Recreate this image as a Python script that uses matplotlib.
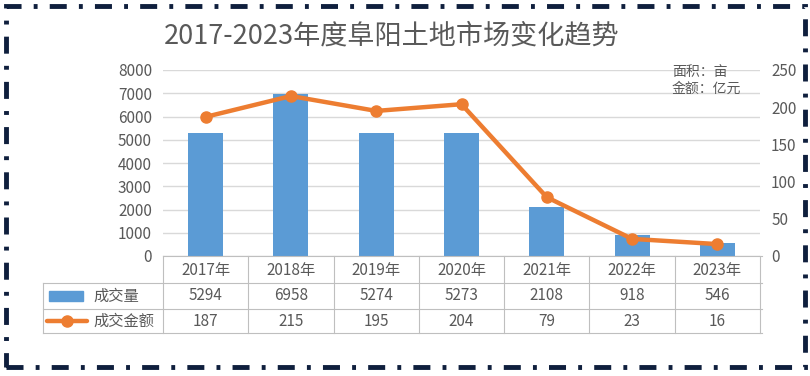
import numpy as np
import matplotlib.pyplot as plt
from matplotlib.lines import Line2D
from matplotlib.patches import Rectangle
from matplotlib.transforms import blended_transform_factory

plt.rcParams['font.family'] = ['Noto Sans CJK SC', 'DejaVu Sans']

''' --------- Data --------- '''
years = ['2017年', '2018年', '2019年', '2020年', '2021年', '2022年', '2023年']
volume = [5294, 6958, 5274, 5273, 2108, 918, 546]      # 成交量 [亩]
amount = [187, 215, 195, 204, 79, 23, 16]              # 成交金额 [亿元]
left_ticks = [0, 1000, 2000, 3000, 4000, 5000, 6000, 7000, 8000]
right_ticks = [0, 50, 100, 150, 200, 250]

W, H = 810, 376
blue = '#5b9bd5'
orange = '#ed7d31'
gray = '#595959'
grid = '#d9d9d9'


def fx(px):
    return px / W


def fy(py):
    return 1 - py / H


fig = plt.figure(figsize=(W / 100, H / 100), dpi=100)
fig.patch.set_facecolor('white')

ax = fig.add_axes([fx(163), fy(256), fx(760) - fx(163), fy(70) - fy(256)])
x = np.arange(len(years))
ax.bar(x, volume, width=0.41, color=blue, zorder=2)
ax.set_xlim(-0.5, len(years) - 0.5)
ax.set_ylim(0, 8000)
ax.set_yticks(left_ticks)
ax.set_xticks([])
ax.grid(axis='y', color=grid, linewidth=1, zorder=0)
for s in ax.spines.values():
    s.set_visible(False)
ax.tick_params(axis='y', length=0, labelsize=11, labelcolor=gray, pad=8)

ax2 = ax.twinx()
ax2.plot(x, amount, color=orange, linewidth=3.2, marker='o', markersize=8,
         zorder=3)
ax2.set_ylim(0, 250)
ax2.set_yticks(right_ticks)
for s in ax2.spines.values():
    s.set_visible(False)
ax2.tick_params(axis='y', length=0, labelsize=11, labelcolor=gray, pad=8)

# title and unit notes
fig.text(fx(392), fy(36), '2017-2023年度阜阳土地市场变化趋势', fontsize=19.5,
         color=gray, ha='center', va='center')
fig.text(fx(672), fy(72), '面积：亩', fontsize=10, color=gray, va='center')
fig.text(fx(672), fy(89), '金额：亿元', fontsize=10, color=gray, va='center')

''' --------- Data table --------- '''
tline = '#bfbfbf'
y_top, y_r1, y_r2, y_bot = fy(256), fy(283), fy(309), fy(333)
xl, x0, xr = fx(43), fx(163), fx(762)
fig.add_artist(Line2D([x0, xr], [y_top, y_top], color=tline, lw=0.8))
for y_ in [y_r1, y_r2, y_bot]:
    fig.add_artist(Line2D([xl, xr], [y_, y_], color=tline, lw=0.8))
fig.add_artist(Line2D([xl, xl], [y_r1, y_bot], color=tline, lw=0.8))
trans = blended_transform_factory(ax.transData, fig.transFigure)
for i in range(len(years) + 1):
    ax.add_artist(Line2D([i - 0.5, i - 0.5], [y_top, y_bot], color=tline,
                         lw=0.8, transform=trans, clip_on=False))

for i, (yr, v, a) in enumerate(zip(years, volume, amount)):
    ax.text(i, fy(270), yr, transform=trans, ha='center', va='center',
            fontsize=11, color=gray)
    ax.text(i, fy(296), str(v), transform=trans, ha='center', va='center',
            fontsize=11, color=gray)
    ax.text(i, fy(321), str(a), transform=trans, ha='center', va='center',
            fontsize=11, color=gray)

# legend keys in the table
fig.add_artist(Rectangle((fx(49), fy(301)), fx(83) - fx(49), fy(291) - fy(301),
                         color=blue))
fig.add_artist(Line2D([fx(47), fx(87)], [fy(321), fy(321)], color=orange,
                      lw=3.2, solid_capstyle='round'))
fig.add_artist(Line2D([fx(67)], [fy(321)], color=orange, marker='o',
                      markersize=8, lw=0))
fig.text(fx(93), fy(296), '成交量', fontsize=11, color=gray, va='center')
fig.text(fx(93), fy(321), '成交金额', fontsize=11, color=gray, va='center')

''' --------- Dash-dot frame --------- '''
frame = Rectangle((fx(6), fy(367)), fx(805) - fx(6), fy(6) - fy(367),
                  fill=False, edgecolor='#0f1f3d', linewidth=3.5,
                  linestyle=(0, (3.5, 2.5, 0.8, 2.5)), capstyle='butt')
fig.add_artist(frame)

fig.savefig('out.png', dpi=100, facecolor='white')
